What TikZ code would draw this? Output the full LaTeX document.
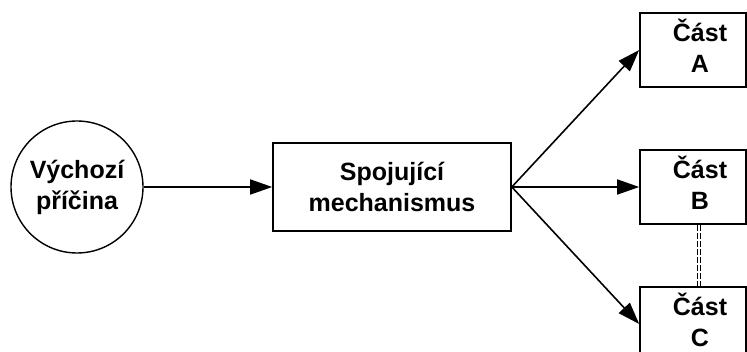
\documentclass[tikz,border=0pt]{standalone}
\usepackage{fontspec}
\setmainfont{Liberation Sans}
\usetikzlibrary{arrows.meta}
\begin{document}
\begin{tikzpicture}[x=1pt,y=-1pt,
  every node/.style={font=\bfseries\fontsize{25}{31}\selectfont, align=center, inner sep=0pt},
  cause/.style={draw, line width=1.4pt, circle, minimum size=132pt},
  mechbox/.style={draw, line width=1.6pt, minimum width=238pt, minimum height=88pt},
  partbox/.style={draw, line width=1.6pt, minimum width=106pt, minimum height=74pt},
  parttext/.style={xshift=7pt, yshift=4pt},
  link/.style={line width=1.6pt, -{Triangle[length=22pt,width=15pt]}},
  tie/.style={double, dashed, line width=0.8pt, double distance=2.2pt, dash pattern=on 6pt off 2pt}]
  \useasboundingbox (0,0) rectangle (747,352);
  \clip (0,0) rectangle (747,352);
  \node[cause] (cause) at (77,187) {Výchozí\\příčina};
  \node[mechbox] (mech) at (392,187) {Spojující\\mechanismus};
  % part boxes: the caption sits a little right of the frame centre
  \node[partbox, label={[parttext]center:{Část\\A}}] (a) at (693,50) {};
  \node[partbox, label={[parttext]center:{Část\\B}}] (b) at (693,187) {};
  \node[partbox, label={[parttext]center:{Část\\C}}] (c) at (693,324) {};
  \draw[link] (cause) -- (mech);
  \draw[link] (mech.east) -- (a.west);
  \draw[link] (mech.east) -- (b.west);
  \draw[link] (mech.east) -- (c.west);
  \draw[tie] ([xshift=6pt]b.south) -- ([xshift=6pt]c.north);
\end{tikzpicture}
\end{document}
